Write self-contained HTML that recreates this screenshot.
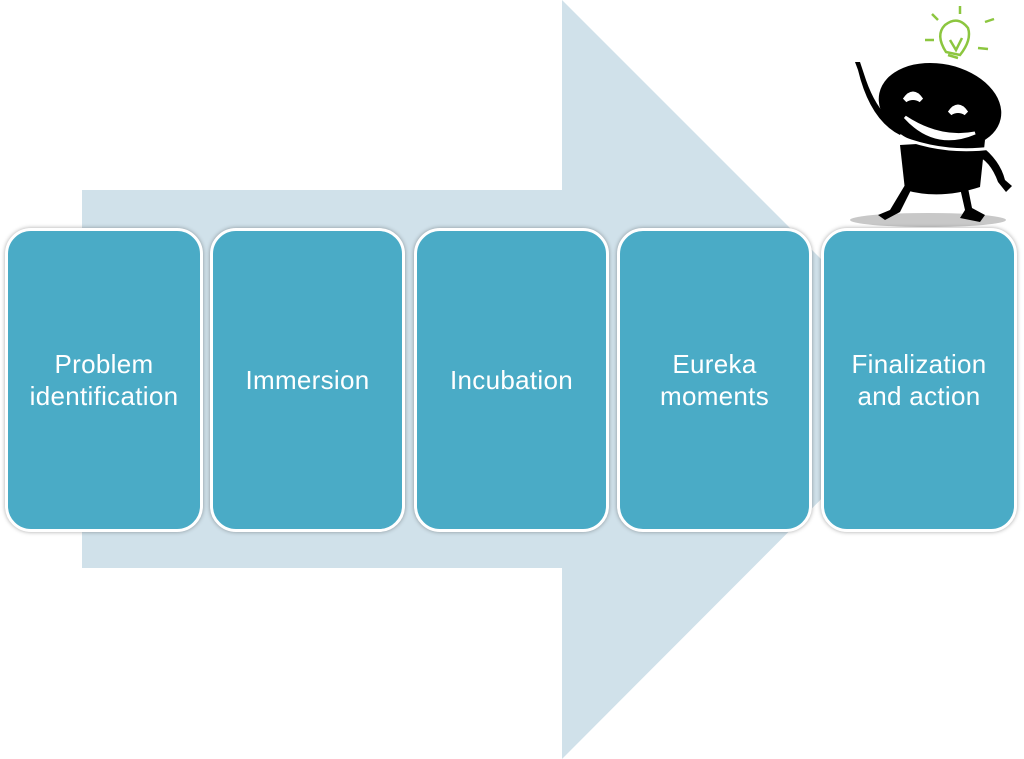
<!DOCTYPE html>
<html><head><style>
body{margin:0;width:1024px;height:759px;background:#fff;position:relative;overflow:hidden;font-family:"Liberation Sans",sans-serif}
.b{position:absolute;top:228px;height:298px;background:#4aabc6;border:3px solid #fff;border-radius:26px;box-shadow:0 0 4px rgba(0,0,0,.35);display:flex;align-items:center;justify-content:center;text-align:center;color:#fff;font-size:26px;line-height:32px;letter-spacing:0.3px}
</style></head><body>
<svg width="1024" height="759" style="position:absolute;left:0;top:0">
<polygon points="82,190 562,190 562,0 941,379 562,759 562,568 82,568" fill="#d0e1ea"/>
<ellipse cx="928" cy="220" rx="78" ry="7" fill="#c8c8c8"/>
<g fill="#000">
<path d="M900,145 L985,140 L980,187 Q940,200 905,190 Z"/>
<ellipse cx="940" cy="106" rx="62" ry="42" transform="rotate(12 940 106)"/>
<path d="M905,185 L890,210 L878,215 L885,220 L900,212 L912,188 Z"/>
<path d="M960,188 L965,210 L960,218 L980,222 L985,215 L972,208 L968,188 Z"/>
<path d="M900,135 Q870,120 858,70 L855,62 L860,62 L866,80 Q880,120 905,127 Z"/>
<path d="M980,145 Q1000,160 1005,180 L1012,186 L1006,192 L998,182 Q990,160 975,155 Z"/>
</g>
<g fill="#fff">
<path d="M905,100 q8,-12 16,0 q-8,-5 -16,0Z" stroke="#fff" stroke-width="5"/>
<path d="M950,113 q8,-12 16,0 q-8,-5 -16,0Z" stroke="#fff" stroke-width="5"/>
<path d="M905,117 Q935,150 975,133 Q940,140 905,117Z" stroke="#fff" stroke-width="3"/>
</g>
<path d="M893,134 Q940,155 992,148" stroke="#fff" stroke-width="3" fill="none"/>
<g stroke="#8cc63f" stroke-width="2.5" fill="none">
<path d="M946,52 Q935,35 945,25 Q958,15 968,28 Q972,40 960,55 Z"/>
<path d="M948,55 L958,58"/><path d="M950,40 L956,50 L962,38"/>
<path d="M960,6 L960,14"/><path d="M932,14 L938,20"/><path d="M985,22 L994,19"/><path d="M925,40 L934,40"/><path d="M978,48 L988,49"/>
</g>
</svg>
<div class="b" style="left:5px;width:192px">Problem<br>identification</div>
<div class="b" style="left:210px;width:189px">Immersion</div>
<div class="b" style="left:414px;width:189px">Incubation</div>
<div class="b" style="left:617px;width:189px">Eureka<br>moments</div>
<div class="b" style="left:821px;width:190px">Finalization<br>and action</div>
</body></html>
